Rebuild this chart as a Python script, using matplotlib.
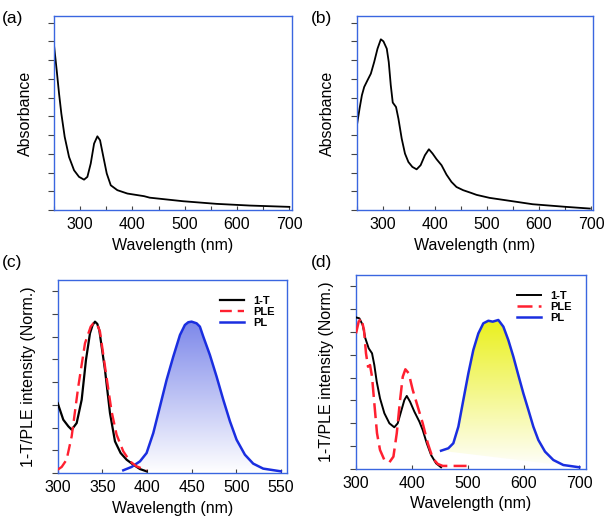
import numpy as np
import matplotlib
matplotlib.use('Agg')
import matplotlib.pyplot as plt
from matplotlib.ticker import MultipleLocator
from matplotlib.colors import LinearSegmentedColormap

plt.rcParams['font.family'] = ['Liberation Sans', 'DejaVu Sans']

# (a) absorbance
wl_a = [250, 255.1, 259.6, 264, 270.4, 278.7, 288.3, 297.8, 307.4, 313.8, 320.2, 326.6,
        332.9, 338, 344.4, 350.8, 358.5, 371.1, 390.3, 422.2, 433, 497, 561, 624.5, 700]
abs_a = [0.879, 0.746, 0.622, 0.515, 0.391, 0.284, 0.213, 0.178, 0.163, 0.178, 0.249, 0.355,
         0.394, 0.373, 0.284, 0.196, 0.133, 0.107, 0.089, 0.075, 0.067, 0.048, 0.034,
         0.025, 0.018]

# (b) absorbance
wl_b = [250, 255.1, 259.6, 264, 270.4, 276.8, 283.2, 289.6, 296, 301, 307.4, 311.2, 315.1,
        318.9, 325.2, 329.8, 336.1, 342.4, 349, 356.6, 364.8, 372.5, 380.7, 388.4, 395.5,
        403.1, 412.7, 422.2, 431.8, 441.4, 454.2, 470, 480, 505, 537, 588, 652, 697.8]
abs_b = [0.453, 0.542, 0.613, 0.657, 0.693, 0.728, 0.790, 0.861, 0.911, 0.900, 0.861, 0.790,
         0.666, 0.574, 0.550, 0.488, 0.382, 0.302, 0.257, 0.231, 0.218, 0.240, 0.293, 0.325,
         0.302, 0.272, 0.240, 0.190, 0.151, 0.124, 0.107, 0.092, 0.082, 0.066, 0.053,
         0.032, 0.018, 0.009]

# (c) 1-T, PLE, PL
wl_c_t = [300, 306.3, 312, 315.7, 321.3, 326.9, 331.7, 336.2, 339.2, 341.8, 344.4, 346.6,
          353, 358.6, 364.2, 370.5, 377.2, 384.7, 392.2, 399.6]
c_t = [0.462, 0.352, 0.308, 0.286, 0.330, 0.484, 0.747, 0.923, 0.978, 1.0, 0.985, 0.945,
       0.681, 0.396, 0.209, 0.132, 0.088, 0.055, 0.026, 0.011]
wl_c_ple = [300, 304.5, 310, 315.7, 323.1, 330.6, 337, 340, 342.5, 345.2, 347.4, 354.1,
            360.4, 366, 373.5, 381, 388.4, 399.6]
c_ple = [0.022, 0.040, 0.088, 0.242, 0.571, 0.857, 0.967, 0.989, 0.993, 0.967, 0.934,
         0.659, 0.407, 0.253, 0.143, 0.077, 0.044, 0.018]
wl_c_pl = [373.5, 382.8, 392.2, 399.6, 407.1, 414.6, 422, 429.5, 437, 442.5, 446.3, 450,
           455.6, 459.3, 463.1, 470.5, 478, 485.5, 493, 500.4, 509.7, 519, 530.2, 550]
c_pl = [0.018, 0.040, 0.077, 0.132, 0.264, 0.44, 0.615, 0.769, 0.912, 0.978, 0.996, 1.0,
        0.989, 0.967, 0.901, 0.780, 0.637, 0.484, 0.341, 0.220, 0.121, 0.062, 0.029, 0.011]

# (d) 1-T, PLE, PL
wl_d_t = [300, 306, 312, 316.7, 322.7, 328.7, 332.8, 337.1, 343, 350.8, 359.8, 368.6,
          374.7, 380.6, 386.6, 390.9, 396.8, 404.6, 413.5, 419.5, 426.7, 434.4, 443.4, 452.3]
d_t = [0.996, 0.990, 0.946, 0.859, 0.793, 0.760, 0.683, 0.574, 0.464, 0.366, 0.300, 0.274,
       0.300, 0.376, 0.453, 0.480, 0.442, 0.376, 0.311, 0.256, 0.169, 0.092, 0.037, 0.011]
wl_d_ple = [300, 304.8, 309.5, 314.3, 317.9, 321.5, 325.1, 328.7, 332.8, 337.6, 343, 350.8,
            359.8, 367, 373, 378.9, 383.7, 388.4, 394.4, 401.6, 410.6, 419.5, 428.5, 437.5,
            446.4, 455.4, 475, 498]
d_ple = [0.891, 0.968, 0.990, 0.913, 0.760, 0.672, 0.683, 0.606, 0.432, 0.235, 0.125, 0.059,
         0.044, 0.081, 0.235, 0.453, 0.606, 0.655, 0.629, 0.519, 0.409, 0.300, 0.169, 0.070,
         0.033, 0.020, 0.020, 0.020]
wl_d_pl = [452.3, 465.4, 474.3, 483.3, 492.2, 501.2, 510.1, 519.1, 528, 537, 544.8, 554.9,
           563.9, 572.8, 581.8, 590.7, 599.7, 608.7, 617.6, 626.6, 638.5, 653.4, 671.3, 700]
d_pl = [0.120, 0.136, 0.169, 0.278, 0.453, 0.628, 0.782, 0.891, 0.957, 0.974, 0.968, 0.979,
        0.935, 0.847, 0.738, 0.617, 0.497, 0.388, 0.278, 0.190, 0.114, 0.059, 0.026, 0.011]

box_col = '#3a66e0'
tick_col = '#444444'

fig = plt.figure(figsize=(6.07, 5.23), dpi=100)
ax_a = fig.add_axes([0.089, 0.598, 0.392, 0.371])
ax_b = fig.add_axes([0.588, 0.598, 0.389, 0.371])
ax_c = fig.add_axes([0.095, 0.0956, 0.378, 0.369])
ax_d = fig.add_axes([0.5865, 0.1033, 0.379, 0.371])


def style(ax, ystep):
    for s in ax.spines.values():
        s.set_color(box_col)
        s.set_linewidth(1.0)
    ax.yaxis.set_major_locator(MultipleLocator(ystep))
    ax.set_yticklabels([])
    ax.tick_params(axis='y', direction='out', length=4, width=0.8, color=tick_col,
                   left=True, right=False)
    ax.tick_params(axis='x', which='both', direction='in', length=3, width=0.8,
                   color=tick_col, labelsize=11.5, pad=5, top=False)
    ax.set_xlabel('Wavelength (nm)', fontsize=11.5, labelpad=4)


def gradient_fill(ax, x, y, top_color):
    poly = ax.fill(x, y, facecolor='none', edgecolor='none')[0]
    cmap = LinearSegmentedColormap.from_list('g', ['white', top_color])
    grad = np.linspace(0, 1, 256).reshape(-1, 1)
    im = ax.imshow(grad, cmap=cmap, aspect='auto', origin='lower',
                   extent=(min(x), max(x), 0, max(y)), zorder=1)
    im.set_clip_path(poly)


# (a)
ax_a.plot(wl_a, abs_a, color='k', lw=1.3)
ax_a.set_xlim(250, 705)
ax_a.set_ylim(0, 1.034)
ax_a.xaxis.set_major_locator(MultipleLocator(100))
ax_a.xaxis.set_minor_locator(MultipleLocator(50))
style(ax_a, 0.1)
ax_a.set_ylabel('Absorbance', fontsize=11.5, labelpad=8)

# (b)
ax_b.plot(wl_b, abs_b, color='k', lw=1.3)
ax_b.set_xlim(250, 704)
ax_b.set_ylim(0, 1.034)
ax_b.xaxis.set_major_locator(MultipleLocator(100))
ax_b.xaxis.set_minor_locator(MultipleLocator(50))
style(ax_b, 0.1)
ax_b.set_ylabel('Absorbance', fontsize=11.5, labelpad=8)

# (c)
gradient_fill(ax_c, wl_c_pl, c_pl, '#7d88ea')
ax_c.plot(wl_c_t, c_t, color='k', lw=1.6, label='1-T', zorder=3)
ax_c.plot(wl_c_ple, c_ple, color='#ff2030', lw=1.7, ls=(0, (5, 2.5)), label='PLE', zorder=4)
ax_c.plot(wl_c_pl, c_pl, color='#1a2ee0', lw=1.8, label='PL', zorder=3)
ax_c.set_xlim(300, 557)
ax_c.set_ylim(0, 1.275)
ax_c.xaxis.set_major_locator(MultipleLocator(50))
style(ax_c, 0.15)
ax_c.set_ylabel('1-T/PLE intensity (Norm.)', fontsize=11.5, labelpad=8)
ax_c.legend(loc='upper right', frameon=False, prop={'weight': 'bold', 'size': 8},
            handlelength=2.2, labelspacing=0.1, bbox_to_anchor=(0.99, 0.97))

# (d)
gradient_fill(ax_d, wl_d_pl, d_pl, '#eaf01e')
ax_d.plot(wl_d_t, d_t, color='k', lw=1.4, label='1-T', zorder=3)
ax_d.plot(wl_d_ple, d_ple, color='#ff2030', lw=1.8, ls=(0, (6, 2.5)), label='PLE', zorder=4)
ax_d.plot(wl_d_pl, d_pl, color='#1a2ee0', lw=1.8, label='PL', zorder=3)
ax_d.set_xlim(300, 712)
ax_d.set_ylim(0, 1.275)
ax_d.xaxis.set_major_locator(MultipleLocator(100))
style(ax_d, 0.15)
ax_d.set_ylabel('1-T/PLE intensity (Norm.)', fontsize=11.5, labelpad=8)
ax_d.legend(loc='upper right', frameon=False, prop={'weight': 'bold', 'size': 8},
            handlelength=2.2, labelspacing=0.1, bbox_to_anchor=(0.98, 0.97))

for lbl, x, y in [('(a)', 0.003, 0.965), ('(b)', 0.512, 0.965),
                  ('(c)', 0.003, 0.498), ('(d)', 0.512, 0.498)]:
    fig.text(x, y, lbl, fontsize=12.5, va='center', ha='left')

fig.savefig('out.png', dpi=100)
